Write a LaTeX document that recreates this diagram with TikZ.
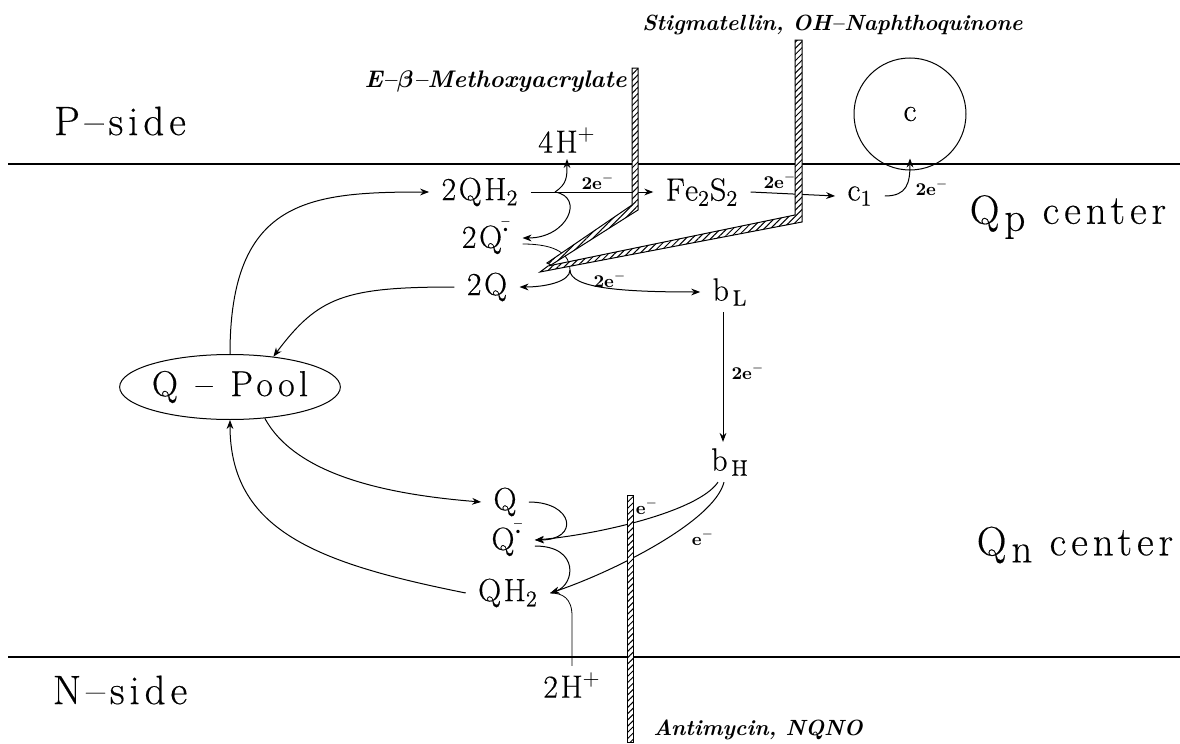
\documentclass[tikz,border=0pt]{standalone}
\usepackage{fontspec}
\usepackage{amsmath}
\usepackage{tikz}
\usetikzlibrary{arrows.meta,shapes.geometric,patterns.meta,positioning,calc}

\newfontfamily\speciesfont{Latin Modern Roman}[LetterSpace=8, FakeBold=0.4]
\newfontfamily\sidefont{Latin Modern Roman}[LetterSpace=12, FakeBold=0.4]

\tikzset{
  species/.style={font=\fontsize{16}{18}\speciesfont, inner xsep=6pt, inner ysep=3pt},
  sidelbl/.style={font=\fontsize{20.5}{24}\sidefont, inner sep=0pt},
  elab/.style={font=\fontsize{9}{10}\selectfont\bfseries, inner sep=1pt},
  inhlbl/.style={font=\fontsize{11}{13}\selectfont\bfseries\itshape, inner sep=0pt},
  arr/.style={-{Stealth[length=4.5pt,width=3.4pt]}, line width=0.5pt},
  membrane/.style={line width=1.3pt},
  inhibitor/.style={draw, line width=0.5pt, preaction={fill=white},
    pattern={Lines[angle=45,distance=2.2pt,line width=0.5pt]}},
}

\begin{document}
\begin{tikzpicture}[x=0.5pt, y=-0.5pt]
  \useasboundingbox (0,0) rectangle (1180,744);
  % membrane
  \draw[membrane] (8,164) -- (1180,164);
  \draw[membrane] (8,657) -- (1180,657);
  \node[sidelbl] (pside) at (120,121) {P\textendash side};
  \node[sidelbl] (nside) at (120,690) {N\textendash side};
  \node[sidelbl] (qpcenter) at (1068,217) {Q\kern2.5pt\raisebox{-.4ex}{p} center};
  \node[sidelbl] (qncenter) at (1075,545) {Q\kern2.5pt\raisebox{-.4ex}{n} center};

  % Qp center
  \node[species] (qhtwo) at (480,192) {2QH\textsubscript{2}};
  \node[species] (fourh) at (567,140) {4H$^+$};
  \node[species] (qsemi) at (486,238) {2Q$^{\bar{\boldsymbol{\cdot}}}$};
  \node[species] (qtwo) at (487,287) {2Q};
  \node[species] (fes) at (702,192) {Fe\textsubscript{2}S\textsubscript{2}};
  \node[species] (cone) at (860,196) {c\textsubscript{1}};
  \node[species, circle, draw, line width=0.5pt, minimum size=56pt, inner sep=0pt] (cyt) at (910,114) {c};
  \node[species] (bl) at (730,292) {b\textsubscript{\,L}};
  \node[species] (bh) at (730,462) {b\textsubscript{\,H}};

  % pool
  \node[ellipse, draw, line width=0.5pt, minimum width=104pt, minimum height=32.5pt, inner sep=0pt,
    font=\fontsize{18}{21}\sidefont] (pool) at (230,387) {Q\hspace{0.5em}\textendash\hspace{0.5em}Pool};

  % Qn center
  \node[species] (qn) at (505,502) {Q};
  \node[species] (qnsemi) at (507,540) {Q$^{\bar{\boldsymbol{\cdot}}}$};
  \node[species] (qnh) at (508,593) {QH\textsubscript{2}};
  \node[species] (twoh) at (572,685) {2H$^+$};

  \coordinate (jqh) at (555,192);
  \coordinate (jq) at (570,270);

  % Qp reactions
  \draw[arr] (pool.north) .. controls +(0,-155) and +(-120,0) .. (qhtwo.west);
  \draw[arr] (qhtwo.east) -- (fes.west);
  \draw[arr] (jqh) .. controls +(12,-8) and +(0,18) .. (fourh.south);
  \draw[arr] (jqh) .. controls +(30,5) and +(45,0) .. (qsemi.east);
  \draw ([yshift=-3pt]qsemi.east) .. controls +(35,0) and +(0,-15) .. (jq);
  \draw[arr] (jq) .. controls +(0,12) and +(25,0) .. (qtwo.east);
  \draw[arr] (jq) .. controls +(0,18) and +(-80,0) .. (bl.west);
  \draw[arr] (qtwo.west) .. controls +(-110,0) and +(45,-60) .. (pool.35);
  \draw[arr] (fes.east) -- (cone.west);
  \draw[arr] (cone.east) .. controls +(22,0) and +(0,25) .. ([yshift=6pt]cyt.south);
  \draw[arr] ([xshift=-3.5pt]bl.south) -- ([xshift=-3.5pt]bh.north);

  % Qn reactions
  \draw[arr] (pool.-42) .. controls +(30,55) and +(-100,-8) .. (qn.west);
  \draw[arr] (qn.east) .. controls +(45,0) and +(45,0) .. (qnsemi.east);
  \draw[arr] ([yshift=-3pt]qnsemi.east) .. controls +(45,0) and +(25,-8) .. (qnh.east);
  \draw (twoh.north) -- ++(0,-50) .. controls +(0,-18) and +(12,0) .. (qnh.east);
  \draw[arr] (qnh.west) .. controls +(-150,-30) and +(0,110) .. (pool.south);
  \draw[arr] ([xshift=-6pt]bh.south) .. controls +(-20,30) and +(60,-5) .. (qnsemi.east);
  \draw[arr] ([xshift=-3pt]bh.south) .. controls +(-10,40) and +(60,-20) .. (qnh.east);

  % electron labels
  \node[elab] (el1) at (598,182) {2e$^-$};
  \node[elab] (el2) at (780,181) {2e$^-$};
  \node[elab] (el3) at (932,188) {2e$^-$};
  \node[elab] (el4) at (610,280) {2e$^-$};
  \node[elab] (el5) at (748,372) {2e$^-$};
  \node[elab] (el6) at (647,507) {e$^-$};
  \node[elab] (el7) at (703,538) {e$^-$};

  % inhibitors
  \filldraw[inhibitor] (632,68) -- (638,68) -- (638,210) -- (551,265) -- (547,263) -- (632,205) -- cycle;
  \filldraw[inhibitor] (795,40) -- (802,40) -- (802,222) -- (540,272) -- (548,266) -- (795,215) -- cycle;
  \filldraw[inhibitor] (627,495) rectangle (633,742);
  \node[inhlbl, anchor=east, font=\fontsize{12}{14}\selectfont\bfseries\itshape] (methlbl) at (627,82) {E--$\boldsymbol{\beta}$--Methoxyacrylate};
  \node[inhlbl, anchor=west] (stiglbl) at (642,25) {Stigmatellin, OH--Naphthoquinone};
  \node[inhlbl, anchor=west] (antilbl) at (653,730) {Antimycin, NQNO};
\end{tikzpicture}
\end{document}
